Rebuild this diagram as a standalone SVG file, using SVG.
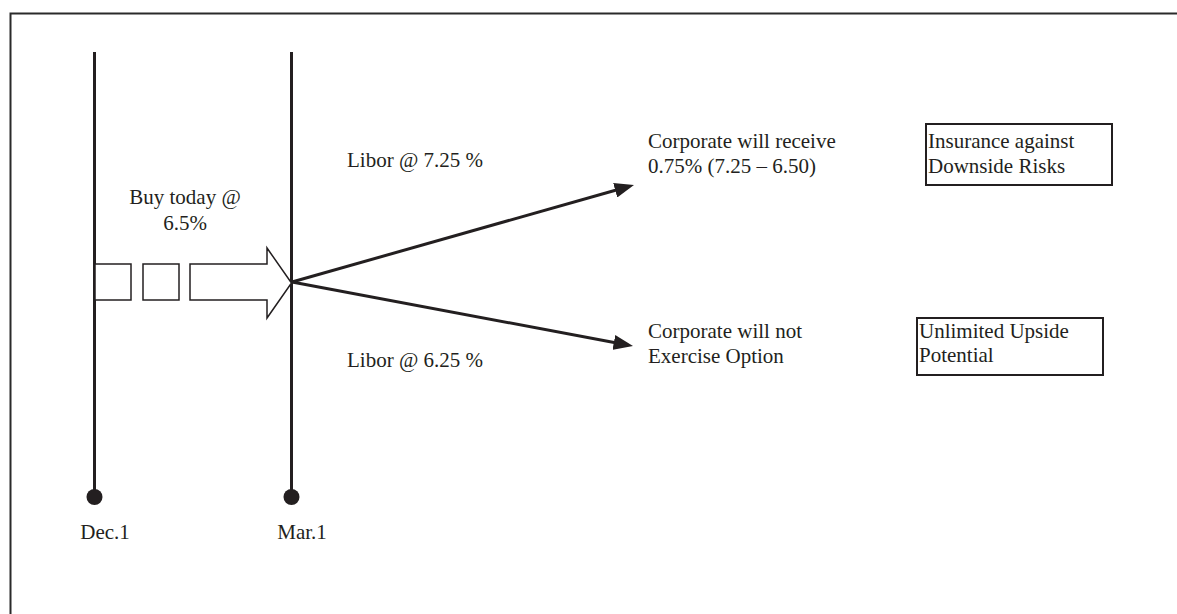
<svg xmlns="http://www.w3.org/2000/svg" width="1177" height="614" viewBox="0 0 1177 614">
<style>
text{font-family:"Liberation Serif","Times New Roman",serif;font-size:21px;fill:#231f20}
.ln{stroke:#231f20;stroke-width:3;fill:none}
.bx{stroke:#231f20;stroke-width:1.5;fill:#fff}
.cn{stroke:#231f20;stroke-width:3;fill:none}
.nb{fill:#fff;stroke:#231f20;stroke-width:2}
</style>
<defs>
<marker id="ah" markerWidth="6.5" markerHeight="5" refX="1" refY="2.5" orient="auto" markerUnits="strokeWidth">
<path d="M0,0 L6.5,2.5 L0,5 Z" fill="#231f20"/>
</marker>
</defs>
<rect x="0" y="0" width="1177" height="614" fill="#fff"/>
<path d="M10.5,614 V13.5 H1177" stroke="#2a2a2a" stroke-width="2" fill="none"/>
<g id="dec1">
<line class="ln" x1="94.5" y1="52" x2="94.5" y2="497"/>
<circle cx="94.5" cy="497" r="8" fill="#231f20"/>
<text x="105" y="539" text-anchor="middle">Dec.1</text>
</g>
<g id="mar1">
<line class="ln" x1="291.5" y1="52" x2="291.5" y2="497"/>
<circle cx="291.5" cy="497" r="8" fill="#231f20"/>
<text x="302" y="539" text-anchor="middle">Mar.1</text>
</g>
<g id="buy">
<rect class="bx" x="95" y="264" width="36" height="36"/>
<rect class="bx" x="143" y="264" width="36" height="36"/>
<path class="bx" d="M190,264 H267 V248 L291.5,283 L267,318 V300 H190 Z"/>
<text x="185" y="204" text-anchor="middle">Buy today @</text>
<text x="185" y="230" text-anchor="middle">6.5%</text>
</g>
<g id="libor-up"><text x="347" y="167">Libor @ 7.25 %</text></g>
<g id="libor-down"><text x="347" y="367">Libor @ 6.25 %</text></g>
<g id="receive">
<text x="648" y="148">Corporate will receive</text>
<text x="648" y="173">0.75% (7.25 – 6.50)</text>
</g>
<g id="notex">
<text x="648" y="338">Corporate will not</text>
<text x="648" y="363">Exercise Option</text>
</g>
<g id="insurance">
<rect class="nb" x="926" y="124" width="186" height="61"/>
<text x="928" y="148">Insurance against</text>
<text x="928" y="173">Downside Risks</text>
</g>
<g id="unlimited">
<rect class="nb" x="917" y="318" width="186" height="57"/>
<text x="919" y="338">Unlimited Upside</text>
<text x="919" y="362">Potential</text>
</g>
<g id="connectors">
<line class="cn" x1="292" y1="282" x2="618.1" y2="189.5" marker-end="url(#ah)"/>
<line class="cn" x1="292" y1="282" x2="616.8" y2="343" marker-end="url(#ah)"/>
</g>
</svg>
